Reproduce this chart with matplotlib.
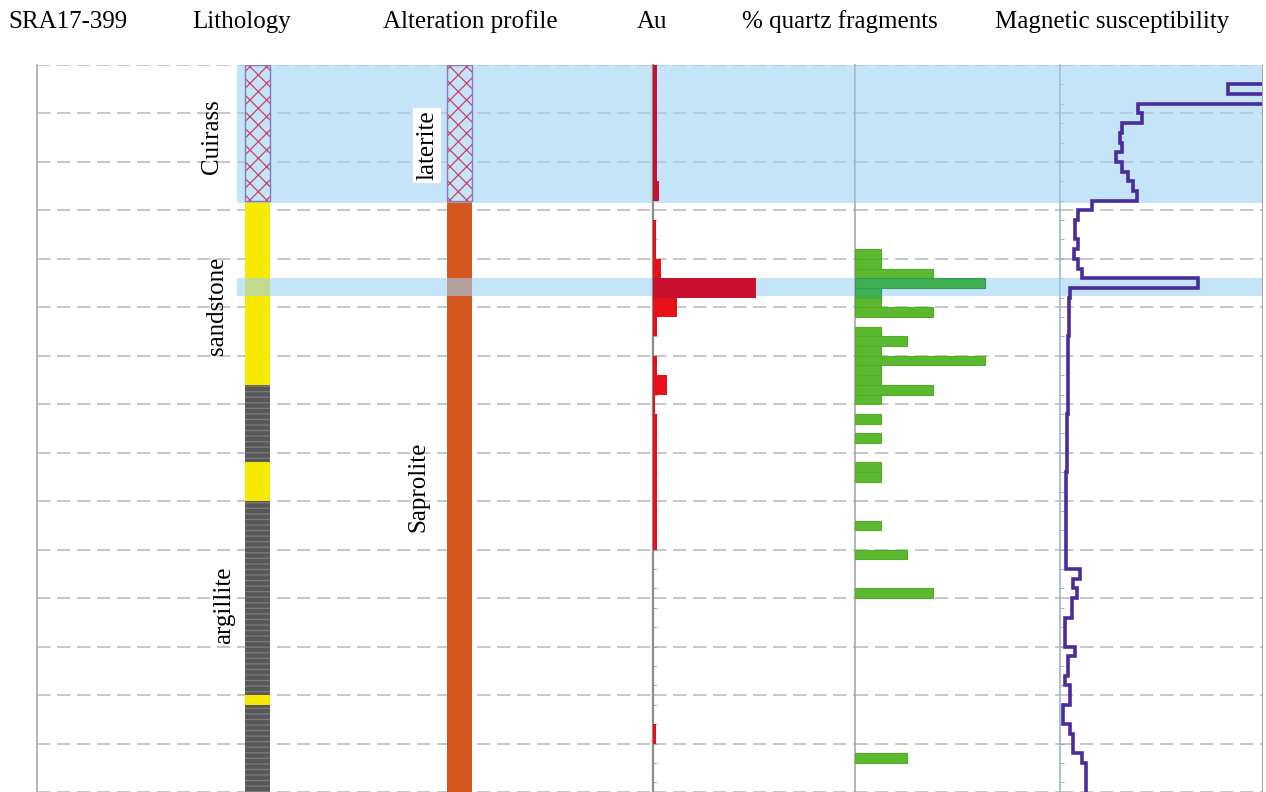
import numpy as np
import matplotlib
matplotlib.use('Agg')
import matplotlib.pyplot as plt

# depth in metres, 0 at collar
depth_max = 75
grid_depths = [0, 5, 10, 15, 20, 25, 30, 35, 40, 45, 50, 55, 60, 65, 70, 75]

# lithology log
litho_top = [0, 14, 33, 41, 45, 65, 66]
litho_base = [14, 33, 41, 45, 65, 66, 75]
litho_kind = ['cuirass', 'sandstone', 'argillite', 'sandstone', 'argillite', 'sandstone', 'argillite']

# alteration profile
alter_top = [0, 14]
alter_base = [14, 75]
alter_kind = ['laterite', 'saprolite']

# highlighted intervals (blue bands)
band_top = [0, 22]
band_base = [14.2, 23.8]

# Au (g/t), 2 m composites starting at 0 m
au_top = [0, 2, 4, 6, 8, 10, 12, 14, 16, 18, 20, 22, 24, 26, 28, 30, 32, 34, 36,
          38, 40, 42, 44, 46, 48, 50, 52, 54, 56, 58, 60, 62, 64, 66, 68, 70, 72, 74]
au_gt = [0.04, 0.04, 0.04, 0.04, 0.04, 0.04, 0.06, 0.0, 0.03, 0.03, 0.08, 1.03, 0.24,
         0.04, 0.0, 0.04, 0.14, 0.02, 0.04, 0.04, 0.04, 0.04, 0.04, 0.04, 0.04,
         0.0, 0.0, 0.0, 0.0, 0.0, 0.0, 0.0, 0.0, 0.0, 0.03, 0.0, 0.0, 0.0]

# % quartz fragments, 1 m samples
quartz_top = [19, 20, 21, 22, 23, 24, 25, 27, 28, 29, 30, 31, 32, 33, 34, 36, 38, 41, 42, 47, 50, 54, 71]
quartz_pct = [10, 10, 30, 50, 10, 10, 30, 10, 20, 10, 50, 10, 10, 30, 10, 10, 10, 10, 10, 10, 20, 30, 20]

# magnetic susceptibility, 1 m readings from 0 m
mag_sus = [250, 250, 168, 250, 78, 82, 62, 60, 62, 56, 62, 68, 73, 77, 32, 18, 15, 15, 18, 14,
           18, 22, 138, 10, 9, 9, 9, 9, 8, 8, 8, 8, 8, 8, 8, 8, 7, 7, 7, 7,
           7, 7, 6, 6, 6, 6, 6, 6, 6, 6, 6, 6, 20, 13, 17, 12, 12, 5, 5, 5,
           15, 8, 8, 5, 10, 10, 3, 3, 10, 13, 13, 22, 26, 26, 26]

headers = ['SRA17-399', 'Lithology', 'Alteration profile', 'Au', '% quartz fragments', 'Magnetic susceptibility']
header_x = [8, 192, 383, 637, 742, 995]

W, H = 1266, 792
TOP = 65
SERIF = 'Liberation Serif'
BAND = '#9fd3f2'
BAND_SOLID = '#c5e5f7'
GRID = '#bdbdbd'

styles = {
    'cuirass':   dict(facecolor=BAND_SOLID, edgecolor='#c8406e', hatch='xx', linewidth=0),
    'laterite':  dict(facecolor=BAND_SOLID, edgecolor='#c8406e', hatch='xx', linewidth=0),
    'sandstone': dict(facecolor='#f5ea00', edgecolor='#f5ea00', linewidth=0),
    'argillite': dict(facecolor='#585858', edgecolor='#7c7c7c', hatch='---', linewidth=0),
    'saprolite': dict(facecolor='#d3561c', edgecolor='#d3561c', linewidth=0),
}


def in_band(top):
    for t, b in zip(band_top, band_base):
        if t <= top < b:
            return True
    return False


def make_axes(fig, x0, x1):
    ax = fig.add_axes([x0 / W, 0, (x1 - x0) / W, (H - TOP) / H])
    ax.set_ylim(depth_max, 0)
    for s in ['top', 'bottom', 'right']:
        ax.spines[s].set_visible(False)
    ax.spines['left'].set_color('#a8a8a8')
    ax.spines['left'].set_linewidth(1.2)
    ax.set_xticks([])
    ax.set_yticks([])
    for d in grid_depths:
        ax.axhline(d, color=GRID, lw=1.2, ls=(0, (8, 4)), zorder=1)
    return ax


def draw_bands(ax, xmin=0.0):
    for t, b in zip(band_top, band_base):
        ax.axhspan(t, b, xmin=xmin, xmax=1, facecolor=BAND, alpha=0.6, lw=0, zorder=3)


def draw_column(ax, x, w, tops, bases, kinds):
    for t, b, k in zip(tops, bases, kinds):
        st = styles[k]
        hatched = st.get('hatch') == 'xx'
        z = 4 if hatched else 2
        ax.bar(x, b - t, bottom=t, width=w, align='edge', zorder=z, **st)
        if hatched:
            ax.bar(x, b - t, bottom=t, width=w, align='edge', zorder=4.5,
                   fill=False, edgecolor='#8b78b8', linewidth=1.0)


def main():
    plt.rcParams['hatch.linewidth'] = 0.9
    fig = plt.figure(figsize=(W / 100, H / 100), dpi=100)

    # left panel: lithology + alteration columns
    ax0 = make_axes(fig, 37, 653)
    ax0.set_xlim(0, 616)
    draw_column(ax0, 208, 25, litho_top, litho_base, litho_kind)
    draw_column(ax0, 410, 25, alter_top, alter_base, alter_kind)
    draw_bands(ax0, xmin=200 / 616)

    lab = dict(rotation=90, ha='center', va='center', fontsize=18, family=SERIF, zorder=6)
    ax0.text(175, 7.4, 'Cuirass', **lab)
    ax0.text(180, 24.8, 'sandstone', **lab)
    ax0.text(187, 55.7, 'argillite', **lab)
    ax0.text(390, 8.3, 'laterite', bbox=dict(facecolor='white', edgecolor='none', pad=2), **lab)
    ax0.text(381, 43.5, 'Saprolite', **lab)

    # Au
    ax1 = make_axes(fig, 653, 855)
    ax1.set_xlim(0, 2.02)
    au_col = ['#c8102e' if in_band(t) else '#e8101a' for t in au_top]
    ax1.barh(au_top, au_gt, height=2, align='edge', color=au_col, lw=0, zorder=4)
    ax1.spines['left'].set_color('#8c8c8c')
    ax1.spines['left'].set_linewidth(1.6)
    draw_bands(ax1)

    # quartz fragments
    ax2 = make_axes(fig, 855, 1060)
    ax2.set_xlim(0, 79)
    q_face = ['#3fb04f' if in_band(t) else '#5cb82e' for t in quartz_top]
    q_edge = ['#2e9a6a' if in_band(t) else '#52ad28' for t in quartz_top]
    ax2.barh(quartz_top, quartz_pct, height=1, align='edge', color=q_face,
             edgecolor=q_edge, lw=0.8, zorder=4)
    draw_bands(ax2)

    # magnetic susceptibility
    ax3 = make_axes(fig, 1060, 1262)
    ax3.set_xlim(0, 202)
    ax3.spines['right'].set_visible(True)
    ax3.spines['right'].set_color('#a8a8a8')
    ax3.spines['left'].set_color('#9bb4cc')
    mag = np.array(mag_sus, dtype=float)
    tops = np.arange(len(mag))
    ys = np.column_stack([tops, tops + 1]).ravel()
    xs = np.repeat(mag, 2)
    ax3.plot(xs, ys, color='#4a2c9c', lw=2.6, zorder=5, solid_joinstyle='miter')
    draw_bands(ax3)

    for ax in (ax1, ax3):
        ax.set_yticks(np.arange(0, 76, 2), minor=True)
        ax.tick_params(axis='y', which='minor', direction='in', length=3,
                       color='#a0a0a0', labelleft=False)

    for txt, x in zip(headers, header_x):
        fig.text(x / W, 1 - 28 / H, txt, fontsize=18, family=SERIF, ha='left', va='baseline')

    fig.savefig('out.png', dpi=100)


if __name__ == "__main__":
    main()
